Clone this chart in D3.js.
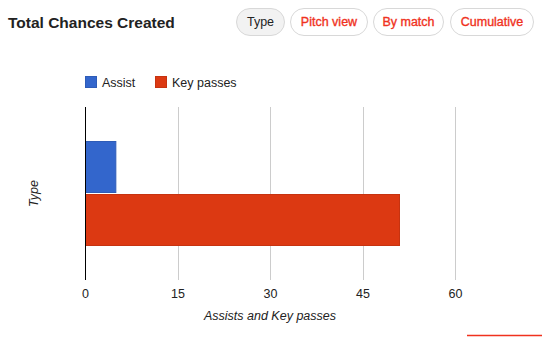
<!DOCTYPE html>
<html>
<head>
<meta charset="utf-8">
<script src="https://cdn.jsdelivr.net/npm/d3@7"></script>
<style>
  body { margin: 0; background: #fff; }
  svg { display: block; font-family: Arial, "Liberation Sans", sans-serif; }
</style>
</head>
<body>
<svg id="chart"></svg>
<script>
// chart data
var categories = ["Type"];
var seriesNames = ["Assist", "Key passes"];
var seriesValues = [5, 51];
var seriesColors = ["#3366cc", "#dc3912"];
var tickValues = [0, 15, 30, 45, 60];
var buttonLabels = ["Type", "Pitch view", "By match", "Cumulative"];

var screen = {width: 542, height: 337};
var margins = {top: 107, bottom: 57, left: 85, right: 87};
var graph = {
    width: screen.width - margins.left - margins.right,
    height: screen.height - margins.top - margins.bottom
};

var svg = d3.select("#chart")
    .attr("width", screen.width)
    .attr("height", screen.height);

// header
svg.append("text")
    .text("Total Chances Created")
    .attr("x", 8)
    .attr("y", 28)
    .attr("font-size", 15.5)
    .attr("font-weight", "bold")
    .attr("fill", "#222");

var buttons = [
    {x: 236, w: 49}, {x: 290, w: 78}, {x: 373, w: 71}, {x: 450, w: 84}
];
var btn = svg.append("g").selectAll("g")
    .data(buttonLabels)
    .enter()
    .append("g")
    .attr("transform", function(d, i) { return "translate(" + buttons[i].x + ",8)"; });
btn.append("rect")
    .attr("x", 0.5).attr("y", 0.5)
    .attr("width", function(d, i) { return buttons[i].w - 1; })
    .attr("height", 27)
    .attr("rx", 13.5)
    .attr("fill", function(d, i) { return i == 0 ? "#f2f2f2" : "#fff"; })
    .attr("stroke", "#d8d8d8");
btn.append("text")
    .text(function(d) { return d; })
    .attr("x", function(d, i) { return buttons[i].w / 2; })
    .attr("y", 18)
    .attr("text-anchor", "middle")
    .attr("font-size", 12.5)
    .attr("stroke", function(d, i) { return i == 0 ? "none" : "#f0321e"; })
    .attr("stroke-width", 0.35)
    .attr("fill", function(d, i) { return i == 0 ? "#222" : "#f0321e"; });

// scales
var xScale = d3.scaleLinear()
    .domain([0, 60])
    .range([0, graph.width]);
var yBand = d3.scaleBand()
    .domain(categories)
    .range([0, graph.height])
    .paddingInner(0)
    .paddingOuter(0.324);
var ySub = d3.scaleBand()
    .domain(seriesNames)
    .range([0, yBand.bandwidth()])
    .paddingInner(0.02);

var g = svg.append("g")
    .attr("transform", "translate(" + margins.left + "," + margins.top + ")");

// gridlines
g.append("g").selectAll("line")
    .data(tickValues.filter(function(d) { return d > 0; }))
    .enter()
    .append("line")
    .attr("x1", function(d) { return Math.round(xScale(d)) + 0.5; })
    .attr("x2", function(d) { return Math.round(xScale(d)) + 0.5; })
    .attr("y1", 0)
    .attr("y2", graph.height)
    .attr("stroke", "#cccccc");

// bars
var rows = seriesNames.map(function(s, i) {
    return {name: s, value: seriesValues[i], color: seriesColors[i], cat: categories[0]};
});
g.append("g").selectAll("rect")
    .data(rows)
    .enter()
    .append("rect")
    .attr("x", xScale(0) + 0.5)
    .attr("y", function(d) { return Math.round(yBand(d.cat) + ySub(d.name)) + 0.5; })
    .attr("width", function(d) { return xScale(d.value) - xScale(0) - 0.5; })
    .attr("height", Math.round(ySub.bandwidth()) - 1)
    .attr("fill", function(d) { return d.color; })
    .attr("stroke", function(d) { return d3.color(d.color).darker(0.3); })
    .attr("stroke-width", 1);

// baseline
g.append("line")
    .attr("x1", 0.5).attr("x2", 0.5)
    .attr("y1", 0).attr("y2", graph.height)
    .attr("stroke", "#000");

// x axis labels
var xAxis = d3.axisBottom(xScale)
    .tickValues(tickValues)
    .tickSize(0)
    .tickPadding(0)
    .tickFormat(d3.format("d"));
var ax = g.append("g")
    .attr("transform", "translate(0," + (graph.height + 18) + ")")
    .call(xAxis);
ax.select(".domain").remove();
ax.selectAll("text")
    .attr("font-size", 12.5)
    .attr("font-family", "Arial, 'Liberation Sans', sans-serif")
    .attr("fill", "#222")
    .attr("dy", 0);

// axis titles
svg.append("text")
    .text("Assists and Key passes")
    .attr("x", margins.left + graph.width / 2)
    .attr("y", 320)
    .attr("text-anchor", "middle")
    .attr("font-size", 12.5)
    .attr("font-style", "italic")
    .attr("fill", "#222");
svg.append("g")
    .attr("transform", "translate(38," + (margins.top + graph.height / 2) + ")")
    .append("text")
    .text("Type")
    .attr("transform", "rotate(270)")
    .attr("text-anchor", "middle")
    .attr("font-size", 12.5)
    .attr("font-style", "italic")
    .attr("fill", "#222");

// legend
var legendX = [85, 155];
var leg = svg.append("g").selectAll("g")
    .data(rows)
    .enter()
    .append("g")
    .attr("transform", function(d, i) { return "translate(" + legendX[i] + ",76)"; });
leg.append("rect")
    .attr("x", 0.5).attr("y", 0.5)
    .attr("width", 11).attr("height", 11)
    .attr("fill", function(d) { return d.color; })
    .attr("stroke", function(d) { return d3.color(d.color).darker(0.3); });
leg.append("text")
    .text(function(d) { return d.name; })
    .attr("x", 17)
    .attr("y", 11)
    .attr("font-size", 12.5)
    .attr("fill", "#222");

// red underline bottom right
svg.append("line")
    .attr("x1", 467).attr("x2", 542)
    .attr("y1", 335.5).attr("y2", 335.5)
    .attr("stroke", "#f0321e")
    .attr("stroke-width", 1.5);
</script>
</body>
</html>
